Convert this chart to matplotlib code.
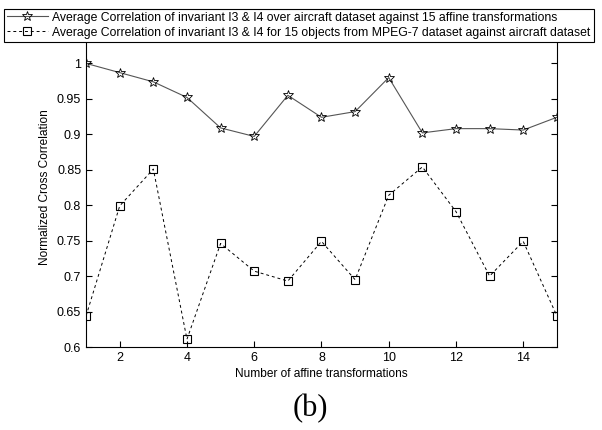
import matplotlib
matplotlib.use("Agg")
from matplotlib import pyplot as plt

plt.rcParams['font.family'] = ['Liberation Sans', 'DejaVu Sans']

transforms = list(range(1, 16))
aircraft_corr = [1.0, 0.987, 0.974, 0.952, 0.909, 0.897, 0.955, 0.924,
                 0.932, 0.980, 0.902, 0.908, 0.908, 0.906, 0.924]
mpeg7_corr = [0.644, 0.799, 0.851, 0.611, 0.746, 0.707, 0.693, 0.749,
              0.695, 0.814, 0.854, 0.791, 0.700, 0.749, 0.644]
yticks = [0.6, 0.65, 0.7, 0.75, 0.8, 0.85, 0.9, 0.95, 1]
ytick_labels = ['0.6', '0.65', '0.7', '0.75', '0.8', '0.85', '0.9', '0.95', '1']

fig = plt.figure(figsize=(6.02, 4.30), dpi=100)
ax = fig.add_axes([0.143, 0.193, 0.782, 0.742])

l1, = ax.plot(transforms, aircraft_corr, '-', color='#555555', lw=0.8,
              marker='*', markersize=7, markerfacecolor='none',
              markeredgecolor='black', markeredgewidth=0.6)
l2, = ax.plot(transforms, mpeg7_corr, '--', color='black', lw=0.7,
              dashes=(3, 3), marker='s', markersize=6, markerfacecolor='none',
              markeredgecolor='black', markeredgewidth=0.8)

ax.set_xlim(1, 15)
ax.set_ylim(0.6, 1.05)
ax.set_xticks([2, 4, 6, 8, 10, 12, 14])
ax.set_yticks(yticks)
ax.set_yticklabels(ytick_labels)
ax.tick_params(direction='in', length=4, labelsize=9, top=True, right=True, width=0.8)
for s in ax.spines.values():
    s.set_linewidth(0.8)
ax.set_xlabel('Number of affine transformations', fontsize=8.6, labelpad=3)
ax.set_ylabel('Normalized Cross Correlation', fontsize=8.6, labelpad=4)

leg = fig.legend([l1, l2],
                 ['Average Correlation of invariant I3 & I4 over aircraft dataset against 15 affine transformations',
                  'Average Correlation of invariant I3 & I4 for 15 objects from MPEG-7 dataset against aircraft dataset'],
                 loc='upper left', bbox_to_anchor=(0.007, 0.98), fontsize=8.8,
                 frameon=True, fancybox=False, edgecolor='black', framealpha=1,
                 handlelength=3.3, handletextpad=0.4, borderpad=0.25, labelspacing=0.25,
                 borderaxespad=0)
leg.get_frame().set_linewidth(0.8)

fig.text(0.515, 0.05, '(b)', ha='center', va='center', fontsize=22,
         family=['Liberation Serif', 'DejaVu Serif'])

plt.savefig('out.png', dpi=100)
